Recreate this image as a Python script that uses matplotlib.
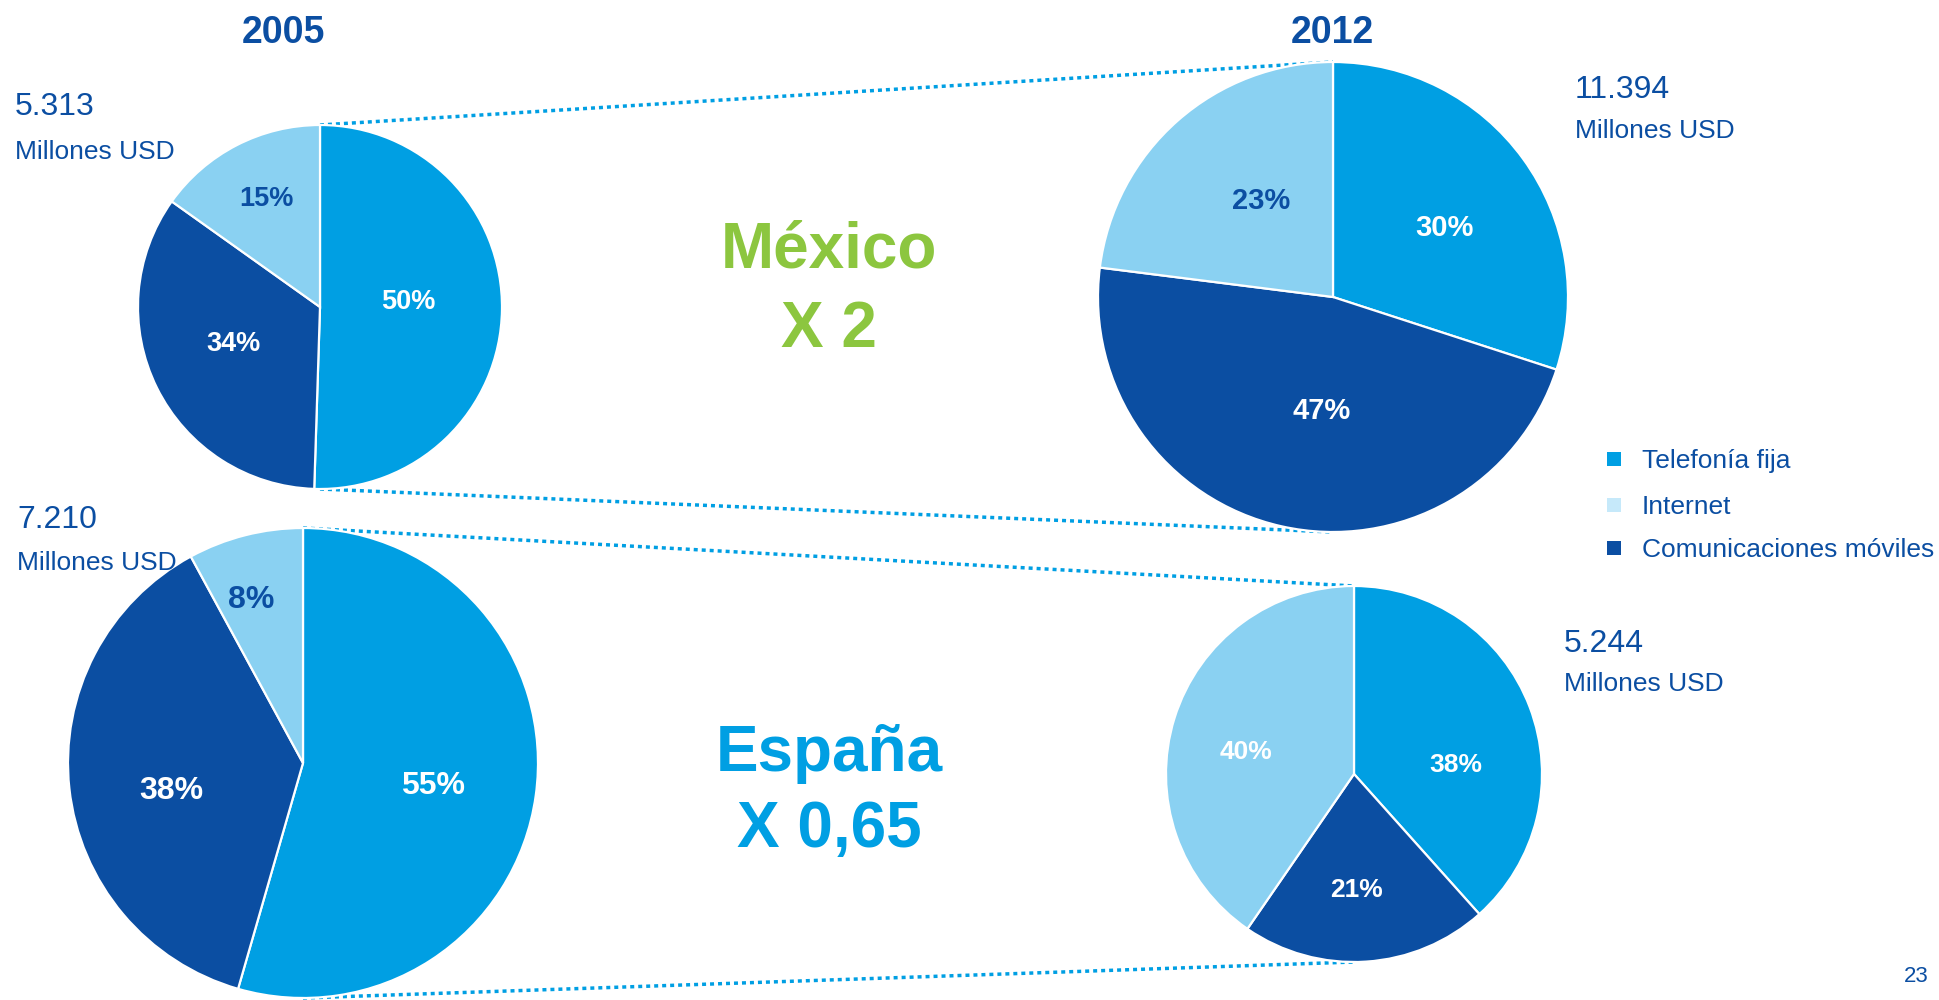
import matplotlib
matplotlib.use('Agg')
import matplotlib.pyplot as plt
import numpy as np

# ---------------- data ----------------
categories = ['Telefonía fija', 'Comunicaciones móviles', 'Internet']
legend_order = ['Telefonía fija', 'Internet', 'Comunicaciones móviles']
mexico_2005 = [50, 34, 15]
mexico_2012 = [30, 47, 23]
espana_2005 = [55, 38, 8]
espana_2012 = [38, 21, 40]
totals = ['5.313', '11.394', '7.210', '5.244']
years = ['2005', '2012']
units = 'Millones USD'
country_titles = ['México\nX 2', 'España\nX 0,65']
page_number = '23'

# ---------------- style ----------------
plt.rcParams['font.family'] = ['Liberation Sans', 'DejaVu Sans']
C_FIJA = '#009FE3'
C_MOV = '#0B4EA2'
C_INT = '#8AD1F2'
C_INT_LEG = '#C6E9FA'
DARK = '#0B4EA2'
GREEN = '#8CC63F'
pie_colors = [C_FIJA, C_MOV, C_INT]
legend_colors = {'Telefonía fija': C_FIJA, 'Internet': C_INT_LEG, 'Comunicaciones móviles': C_MOV}

W, H = 1939, 1000
fig = plt.figure(figsize=(W / 100, H / 100), dpi=100)
ax = fig.add_axes([0, 0, 1, 1])


def Y(y):
    return H - y


def cap_px(fs):
    return 0.716 * fs * 100 / 72


pies = [
    dict(vals=mexico_2005, c=(320, 307), r=182, dist=[0.485, 0.514, 0.676],
         dang=[5.6, -4.6, -1.7], fs=19.5, lc=['white', 'white', DARK]),
    dict(vals=mexico_2012, c=(1333, 297), r=235, dist=[0.563, 0.477, 0.52],
         dang=[-3.2, 6.6, -5.4], fs=21, lc=['white', 'white', DARK]),
    dict(vals=espana_2005, c=(303, 763), r=235, dist=[0.56, 0.568, 0.742],
         dang=[-0.7, 4.4, 3.2], fs=23, lc=['white', 'white', DARK]),
    dict(vals=espana_2012, c=(1354, 774), r=188, dist=[0.543, 0.605, 0.588],
         dang=[-14.6, -2.4, 4.3], fs=19, lc=['white', 'white', 'white']),
]

for p in pies:
    cx, cy = p['c'][0], Y(p['c'][1])
    r = p['r']
    wedges, _ = ax.pie(p['vals'], colors=pie_colors, startangle=90, counterclock=False,
                       center=(cx, cy), radius=r, frame=True,
                       wedgeprops=dict(edgecolor='white', linewidth=1.6, zorder=3))
    for w, v, d, da, col in zip(wedges, p['vals'], p['dist'], p['dang'], p['lc']):
        ang = np.deg2rad((w.theta1 + w.theta2) / 2 + da)
        ax.text(cx + d * r * np.cos(ang), cy + d * r * np.sin(ang) - cap_px(p['fs']) / 2,
                f'{v}%', ha='center', va='baseline', color=col, fontsize=p['fs'],
                fontweight='bold', zorder=5)

# dotted connectors between the pies (tops and bottoms)
for a, b in [(0, 1), (2, 3)]:
    pa, pb = pies[a], pies[b]
    for sign in (1, -1):
        xa, ya = pa['c'][0], Y(pa['c'][1]) + sign * pa['r']
        xb, yb = pb['c'][0], Y(pb['c'][1]) + sign * pb['r']
        ax.plot([xa, xb], [ya, yb], color=C_FIJA, lw=2.5, linestyle=(0, (1.15, 1.15)),
                dash_capstyle='butt', zorder=1)

# year titles
for yr, x in zip(years, [283, 1332]):
    ax.text(x, Y(43), yr, ha='center', va='baseline', fontsize=27, fontweight='bold', color=DARK)

# totals
total_pos = [(15, 115, 159), (1575, 98, 138), (17, 528, 570), (1564, 652, 691)]
for t, (x, yb1, yb2) in zip(totals, total_pos):
    ax.text(x, Y(yb1), t, ha='left', va='baseline', fontsize=23, color=DARK)
    ax.text(x, Y(yb2), units, ha='left', va='baseline', fontsize=19, color=DARK)

# country titles
mx, es = country_titles
for txt, col, baselines in [(mx, GREEN, (268, 347)), (es, C_FIJA, (771, 847))]:
    for line, yb in zip(txt.split('\n'), baselines):
        ax.text(829, Y(yb), line, ha='center', va='baseline', fontsize=46,
                fontweight='bold', color=col)

# legend
for name, yl in zip(legend_order, [459, 505, 548]):
    ax.scatter([1614], [Y(yl)], marker='s', s=90, color=legend_colors[name], linewidths=0)
    ax.text(1642, Y(yl) - cap_px(19) / 2, name, ha='left', va='baseline', fontsize=19, color=DARK)

# page number
ax.text(1916, Y(974) - cap_px(16) / 2, page_number, ha='center', va='baseline',
        fontsize=16, color=DARK)

ax.set_xlim(0, W)
ax.set_ylim(0, H)
ax.set_aspect('equal')
ax.axis('off')
fig.savefig('out.png', dpi=100, facecolor='white')
